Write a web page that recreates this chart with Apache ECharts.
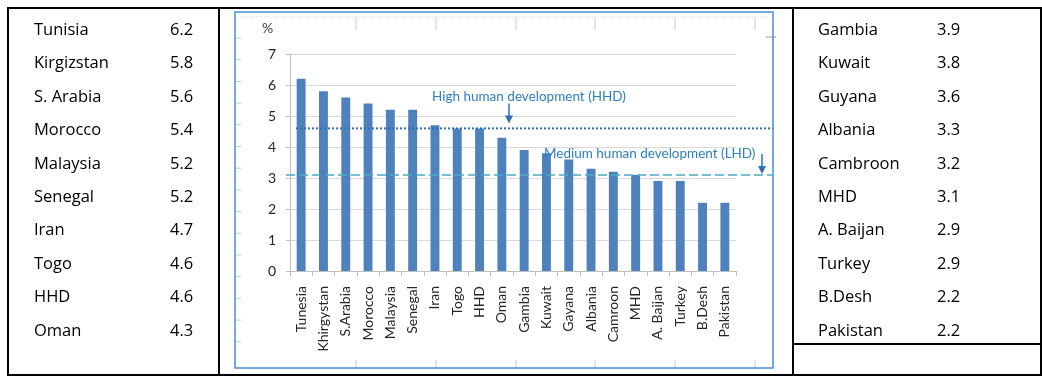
<!DOCTYPE html>
<html>
<head>
<meta charset="utf-8">
<script src="https://cdn.jsdelivr.net/npm/echarts@6/dist/echarts.min.js"></script>
<style>
  html, body { margin: 0; padding: 0; background: #ffffff; }
  #chart { width: 1042px; height: 377px; }
</style>
</head>
<body>
<div id="chart"></div>
<script>
// Chart categories (as labelled on the axis) and their values, in %
const categories = ['Tunesia', 'Khirgystan', 'S.Arabia', 'Morocco', 'Malaysia', 'Senegal', 'Iran', 'Togo', 'HHD', 'Oman',
  'Gambia', 'Kuwait', 'Gayana', 'Albania', 'Camroon', 'MHD', 'A. Baijan', 'Turkey', 'B.Desh', 'Pakistan'];
const values = [6.2, 5.8, 5.6, 5.4, 5.2, 5.2, 4.7, 4.6, 4.6, 4.3,
  3.9, 3.8, 3.6, 3.3, 3.2, 3.1, 2.9, 2.9, 2.2, 2.2];
// Names as written in the side tables
const tableNames = ['Tunisia', 'Kirgizstan', 'S. Arabia', 'Morocco', 'Malaysia', 'Senegal', 'Iran', 'Togo', 'HHD', 'Oman',
  'Gambia', 'Kuwait', 'Guyana', 'Albania', 'Cambroon', 'MHD', 'A. Baijan', 'Turkey', 'B.Desh', 'Pakistan'];
const yTicks = [0, 1, 2, 3, 4, 5, 6, 7];
const hhdLabel = 'High human development (HHD)';
const mhdLabel = 'Medium human development (LHD)';

const FONT = 'Lato, "Liberation Sans", sans-serif';
const TABLE_FONT = '"Open Sans", Lato, sans-serif';
const BAR = '#4f81bd';
const LINE_DARK = '#2f6fb6';
const LINE_LIGHT = '#4bacc6';

const chart = echarts.init(document.getElementById('chart'));

chart.setOption({
  animation: false,
  backgroundColor: '#ffffff',
  grid: { left: 290, right: 306, top: 54, bottom: 106, containLabel: false },
  xAxis: {
    type: 'category',
    data: categories,
    boundaryGap: true,
    axisLine: { show: true, lineStyle: { color: '#bfbfbf', width: 1 } },
    axisTick: { show: true, length: 5, lineStyle: { color: '#bfbfbf' } },
    axisLabel: { rotate: 90, margin: 15, interval: 0, color: '#262626', fontFamily: FONT, fontSize: 14 }
  },
  yAxis: {
    type: 'value',
    min: yTicks[0],
    max: yTicks[yTicks.length - 1],
    interval: 1,
    axisLine: { show: true, lineStyle: { color: '#bfbfbf', width: 1 } },
    axisTick: { show: true, length: 4, lineStyle: { color: '#bfbfbf' } },
    axisLabel: { margin: 14, color: '#262626', fontFamily: FONT, fontSize: 14 },
    splitLine: { show: true, lineStyle: { color: '#d9d9d9', width: 1 } }
  },
  series: [{
    type: 'bar',
    data: values,
    barWidth: '40%',
    itemStyle: { color: BAR }
  }]
});

// Table rows, two side columns of ten rows each
function tableGraphics() {
  const els = [];
  const black = { stroke: '#000000', lineWidth: 2 };
  const hline = (x1, x2, y) => els.push({ type: 'line', shape: { x1, y1: y, x2, y2: y }, style: black, z: 10 });
  const vline = (x, y1, y2) => els.push({ type: 'line', shape: { x1: x, y1, x2: x, y2 }, style: black, z: 10 });
  hline(7, 1042, 8);
  hline(7, 1042, 375);
  hline(793, 1042, 344);
  vline(8, 7, 376);
  vline(219, 7, 376);
  vline(793, 7, 376);
  vline(1041, 7, 376);

  const rowTop = 30, rowStep = 33.45;
  for (let i = 0; i < tableNames.length; i++) {
    const col = i < 10 ? 0 : 1;
    const r = i % 10;
    const y = rowTop + r * rowStep;
    const nameX = col === 0 ? 34 : 818;
    const valX = col === 0 ? 170 : 937;
    els.push({ type: 'text', z: 10, style: { text: tableNames[i], x: nameX, y, fill: '#000000',
      font: '16.5px ' + TABLE_FONT, align: 'left', verticalAlign: 'middle' } });
    els.push({ type: 'text', z: 10, style: { text: values[i].toFixed(1), x: valX, y, fill: '#000000',
      font: '16.5px ' + TABLE_FONT, align: 'left', verticalAlign: 'middle' } });
  }
  return els;
}

// Frame around the chart panel and its faint outer tick marks
function frameGraphics() {
  const els = [];
  els.push({ type: 'rect', shape: { x: 235, y: 12, width: 538, height: 356 },
    style: { fill: 'none', stroke: '#4a8fd4', lineWidth: 1.5 }, z: 5 });
  const grey = { stroke: '#c9c9c9', lineWidth: 1 };
  els.push({ type: 'line', shape: { x1: 240, y1: 17, x2: 770, y2: 17 }, style: { stroke: '#dcdcdc', lineWidth: 1, lineDash: [1, 1] }, z: 4 });
  [356, 436, 516, 595, 675, 755].forEach(x => {
    els.push({ type: 'line', shape: { x1: x, y1: 17, x2: x, y2: 30 }, style: grey, z: 4 });
    els.push({ type: 'line', shape: { x1: x, y1: 360, x2: x, y2: 368 }, style: grey, z: 4 });
  });
  for (let y = 38; y < 360; y += 21.7) {
    els.push({ type: 'line', shape: { x1: 236, y1: y, x2: 241, y2: y }, style: grey, z: 4 });
  }
  els.push({ type: 'line', shape: { x1: 766, y1: 37, x2: 776, y2: 37 }, style: { stroke: '#9a9a9a', lineWidth: 1 }, z: 4 });
  return els;
}

// Reference levels for high and medium human development, arrows and labels
function referenceGraphics() {
  const els = [];
  const hhd = values[categories.indexOf('HHD')];
  const mhd = values[categories.indexOf('MHD')];
  const yH = chart.convertToPixel({ yAxisIndex: 0 }, hhd);
  const yM = chart.convertToPixel({ yAxisIndex: 0 }, mhd);

  els.push({ type: 'line', z: 6, shape: { x1: 296, y1: yH, x2: 773, y2: yH },
    style: { stroke: LINE_DARK, lineWidth: 2, lineDash: [2, 2] } });
  els.push({ type: 'line', z: 6, shape: { x1: 286, y1: yM, x2: 773, y2: yM },
    style: { stroke: LINE_LIGHT, lineWidth: 1.5, lineDash: [9, 4] } });

  const arrow = (x, yTop, yTip) => {
    els.push({ type: 'line', z: 7, shape: { x1: x, y1: yTop, x2: x, y2: yTip - 6 },
      style: { stroke: LINE_DARK, lineWidth: 1.5 } });
    els.push({ type: 'polygon', z: 7, shape: { points: [[x - 4, yTip - 8], [x + 4, yTip - 8], [x, yTip]] },
      style: { fill: LINE_DARK } });
  };
  arrow(509, yH - 25, yH - 5);
  arrow(762, yM - 21, yM - 1);

  els.push({ type: 'text', z: 7, style: { text: hhdLabel, x: 432, y: yH - 32, fill: '#2e80c0',
    font: '13.5px ' + FONT, align: 'left', verticalAlign: 'middle' } });
  els.push({ type: 'text', z: 7, style: { text: mhdLabel, x: 544, y: yM - 21, fill: '#2e80c0',
    font: '13.5px ' + FONT, align: 'left', verticalAlign: 'middle' } });
  els.push({ type: 'text', z: 7, style: { text: '%', x: 262, y: 28, fill: '#404040',
    font: '14px ' + FONT, align: 'left', verticalAlign: 'middle' } });
  return els;
}

chart.setOption({
  graphic: { elements: [].concat(frameGraphics(), referenceGraphics(), tableGraphics()) }
});
</script>
</body>
</html>
